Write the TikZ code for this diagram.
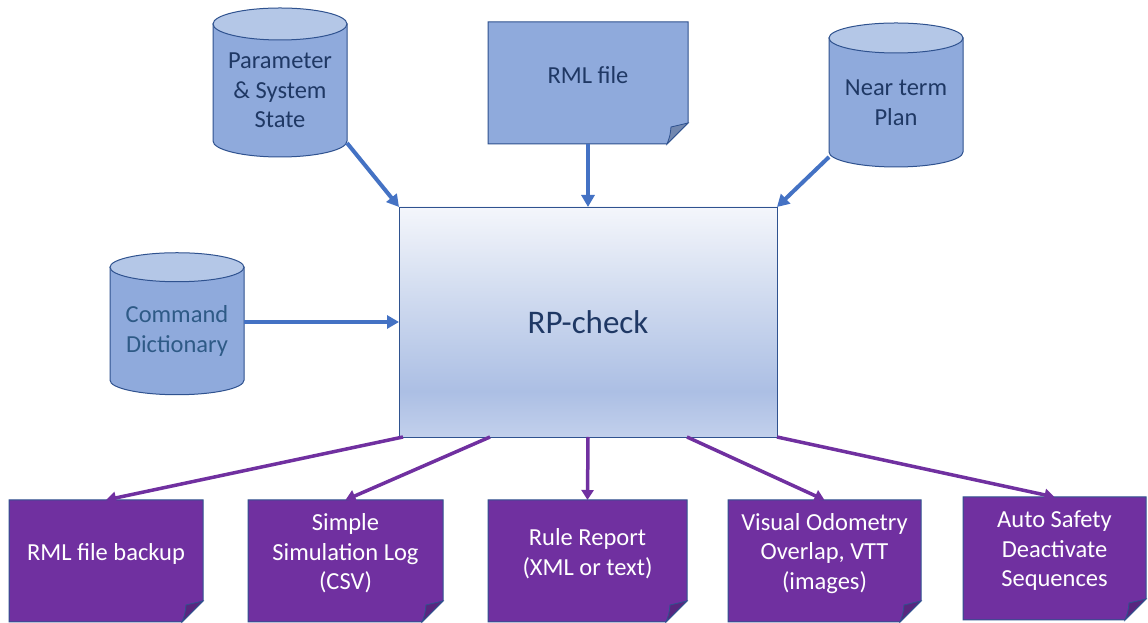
\documentclass[tikz,border=0pt]{standalone}
\usepackage{fontspec}
\setmainfont{Carlito}
\usetikzlibrary{arrows.meta,backgrounds}
\definecolor{cylbody}{HTML}{8FAADC}
\definecolor{cyltop}{HTML}{B4C7E7}
\definecolor{bd}{HTML}{2F528F}
\definecolor{navy}{HTML}{1F3864}
\definecolor{cmdtxt}{HTML}{2E5A86}
\definecolor{foldblue}{HTML}{7288B0}
\definecolor{purp}{HTML}{7030A0}
\definecolor{foldpurp}{HTML}{58267F}
\definecolor{arrblue}{HTML}{4472C4}
\definecolor{btop}{HTML}{F4F6FB}
\definecolor{bmid}{HTML}{CFDAEF}
\definecolor{bdark}{HTML}{ACBFE4}
\definecolor{bbot}{HTML}{C2D0EC}
\pgfdeclareverticalshading{rpshade}{100bp}{color(0bp)=(bbot); color(25bp)=(bbot); color(35bp)=(bdark); color(55bp)=(bmid); color(75bp)=(btop); color(100bp)=(btop)}
\newcommand{\drawcylinder}[3]{%
  \path[fill=cylbody, draw=bd, line width=1pt] (#1.north west) -- ([yshift=#3pt]#1.south west) arc[start angle=180,end angle=360,x radius=#2,y radius=#3] -- (#1.north east) -- cycle;
  \path[fill=cyltop, draw=bd, line width=1pt] (#1.north) ellipse[x radius=#2, y radius=#3];
}
\newcommand{\drawfoldnote}[3]{%
  \path[fill=#2, draw=bd, line width=1pt] (#1.north west) -- (#1.north east) -- ([yshift=21pt]#1.south east) -- ([xshift=-21pt]#1.south east) -- (#1.south west) -- cycle;
  \path[fill=#3, draw=bd, line width=0.8pt] ([yshift=21pt]#1.south east) -- ([xshift=-17pt,yshift=17pt]#1.south east) .. controls ([xshift=-18pt,yshift=8pt]#1.south east) .. ([xshift=-21pt]#1.south east) -- cycle;
}
\begin{document}
\begin{tikzpicture}[x=1pt,y=1pt,
  txt/.style={font=\fontsize{24.5}{29.5}\selectfont, align=center},
  cylnode/.style={txt, text=navy, inner sep=0pt, outer sep=0pt, minimum width=134pt},
  bnote/.style={inner sep=0pt, outer sep=0pt, minimum width=200pt, minimum height=122pt},
  pnote/.style={inner sep=0pt, outer sep=0pt, minimum height=122pt},
  ptext/.style={txt, text=white, yshift=7.5pt},
  btext/.style={txt, text=navy, yshift=8pt},
  rpbox/.style={shading=rpshade, draw=bd, line width=0.9pt, minimum width=378pt, minimum height=230pt, inner sep=0pt, outer sep=0pt, font=\fontsize{33}{38}\selectfont, text=navy},
  barrow/.style={draw=arrblue, line width=4pt, -{Triangle[length=12pt,width=13pt]}},
  parrow/.style={draw=purp, line width=3.5pt, -{Triangle[length=10pt,width=12pt]}}
]
\useasboundingbox (0,0) rectangle (1148,623);

% input nodes
\node[cylnode, minimum height=133pt] (param) at (280,532.5) {Parameter\\\&~System\\State};
\node[cylnode, minimum height=129pt] (near) at (896,520.5) {Near term\\Plan};
\node[cylnode, minimum height=127.5pt, text=cmdtxt] (cmd) at (177,292) {Command\\Dictionary};
\node[bnote, label={[btext]center:RML file}] (rml) at (588,540) {};

% central node
\node[rpbox] (box) at (588,301) {RP-check};

% output notes
\node[pnote, minimum width=194pt, label={[ptext]center:RML file backup}] (n1) at (106,62) {};
\node[pnote, minimum width=195pt, label={[ptext]center:{Simple\\Simulation Log\\(CSV)}}] (n2) at (345.5,62) {};
\node[pnote, minimum width=199pt, label={[ptext]center:{Rule Report\\(XML or text)}}] (n3) at (587.5,62) {};
\node[pnote, minimum width=193pt, label={[ptext]center:{Visual Odometry\\Overlap, VTT\\(images)}}] (n4) at (824.5,62) {};
\node[pnote, minimum width=183pt, minimum height=123pt, label={[ptext]center:{Auto Safety\\Deactivate\\Sequences}}] (n5) at (1054.5,64.5) {};

\begin{pgfonlayer}{background}
  \fill[white] (0,0) rectangle (1148,623);
  \drawcylinder{param}{67}{16}
  \drawcylinder{near}{67}{15}
  \drawcylinder{cmd}{67}{14.5}
  \drawfoldnote{rml}{cylbody}{foldblue}
  \drawfoldnote{n1}{purp}{foldpurp}
  \drawfoldnote{n2}{purp}{foldpurp}
  \drawfoldnote{n3}{purp}{foldpurp}
  \drawfoldnote{n4}{purp}{foldpurp}
  \drawfoldnote{n5}{purp}{foldpurp}
\end{pgfonlayer}

% inputs
\draw[barrow] ([yshift=14pt]param.south east) -- (box.north west);
\draw[barrow] (rml.south) -- (box.north);
\draw[barrow] ([yshift=10pt]near.south west) -- (box.north east);
\draw[barrow] (cmd.east |- box.west) -- (box.west);

% outputs
\draw[parrow] ([xshift=4pt]box.south west) -- (n1.north);
\draw[parrow] ([xshift=91pt]box.south west) -- (n2.north);
\draw[parrow] (box.south) -- (n3.north);
\draw[parrow] ([xshift=-90pt]box.south east) -- (n4.north);
\draw[parrow] (box.south east) -- (n5.north);
\end{tikzpicture}
\end{document}
